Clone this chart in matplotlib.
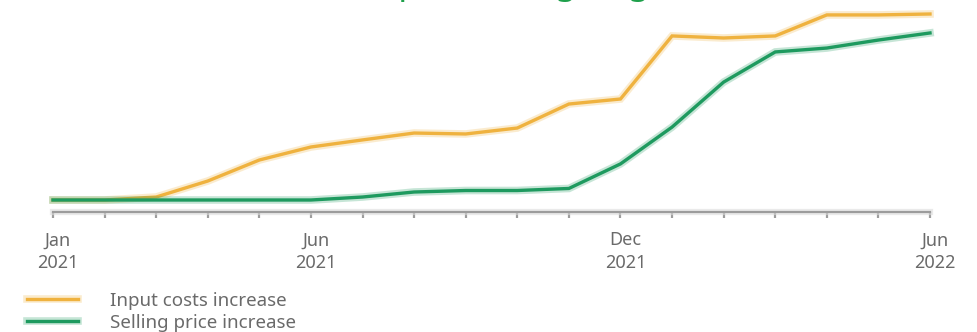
import matplotlib
matplotlib.use("Agg")
import matplotlib.pyplot as plt
import matplotlib.patheffects as pe
from matplotlib.transforms import ScaledTranslation

# ---- data (arbitrary index) ----
months = ["Jan 2021", "Feb 2021", "Mar 2021", "Apr 2021", "May 2021", "Jun 2021",
          "Jul 2021", "Aug 2021", "Sep 2021", "Oct 2021", "Nov 2021", "Dec 2021",
          "Jan 2022", "Feb 2022", "Mar 2022", "Apr 2022", "May 2022", "Jun 2022"]
input_costs = [0, 0, 1.6, 10.2, 21.5, 28.5, 32.3, 36.0, 35.5, 38.7, 51.6, 54.3,
               88.2, 87.1, 88.2, 99.5, 99.5, 100.0]
selling_price = [0, 0, 0, 0, 0, 0, 1.6, 4.3, 5.1, 5.1, 6.2, 19.4,
                 39.2, 63.4, 79.6, 81.7, 86.0, 89.8]
labeled_ticks = {"Jan 2021": "Jan\n2021", "Jun 2021": "Jun\n2021",
                 "Dec 2021": "Dec\n2021", "Jun 2022": "Jun\n2022"}
series_names = ["Input costs increase", "Selling price increase"]
title_text = "Input costs going into overdrive"

ORANGE = "#EFB23F"
GREEN = "#1E9A5F"
GRAY_TXT = "#6a6a6a"
AXIS_GRAY = "#9c9c9c"

plt.rcParams['font.family'] = ['Noto Sans', 'DejaVu Sans']

W, H = 977, 332
fig = plt.figure(figsize=(W / 100, H / 100), dpi=100)

# axes geometry in pixels
x0_px, x1_px = 53, 930
ybot_px, ytop_px = 212, 5
ax = fig.add_axes([x0_px / W, (H - ybot_px) / H, (x1_px - x0_px) / W, (ybot_px - ytop_px) / H])

# value scale: 0 at y=200px, 100 at y=14px
ppu = (200 - 14) / 100.0
ax.set_ylim(-(ybot_px - 200) / ppu, (200 - ytop_px) / ppu)
x = list(range(len(months)))
ax.set_xlim(0, len(months) - 1)

def glow(color):
    return [pe.Stroke(linewidth=5.5, foreground=color, alpha=0.25), pe.Normal()]

l1, = ax.plot(x, input_costs, color=ORANGE, lw=2.4, solid_joinstyle='miter',
              path_effects=glow(ORANGE), label=series_names[0], clip_on=False)
l2, = ax.plot(x, selling_price, color=GREEN, lw=2.4, solid_joinstyle='miter',
              path_effects=glow(GREEN), label=series_names[1], clip_on=False)

for s in ["top", "right", "left"]:
    ax.spines[s].set_visible(False)
ax.spines["bottom"].set_color(AXIS_GRAY)
ax.spines["bottom"].set_linewidth(1.6)
ax.spines["bottom"].set_path_effects([pe.Stroke(linewidth=4.5, foreground="#dcdcdc", alpha=0.6), pe.Normal()])
ax.set_yticks([])
ax.set_xticks(x)
ax.set_xticklabels([labeled_ticks.get(m, "") for m in months])
ax.tick_params(axis='x', direction='out', length=4, width=1.6, color=AXIS_GRAY,
               pad=10, labelsize=13, labelcolor=GRAY_TXT)
shift = ScaledTranslation(5 / 100, 0, fig.dpi_scale_trans)
for lab in ax.get_xticklabels():
    lab.set_linespacing(1.35)
    lab.set_transform(lab.get_transform() + shift)
ax.patch.set_alpha(0)

leg = fig.legend(handles=[l1, l2], loc='upper left', bbox_to_anchor=(27 / W, 1 - 292 / H),
                 frameon=False, fontsize=13.5, labelcolor=GRAY_TXT, handlelength=2.7,
                 handletextpad=1.75, labelspacing=0.2, borderaxespad=0, borderpad=0)

fig.text(365 / W, 1 + 6.5 / H, title_text, ha='left', va='baseline', fontsize=25,
         fontweight='bold', color="#1EA04B")

fig.savefig("out.png", dpi=100)
